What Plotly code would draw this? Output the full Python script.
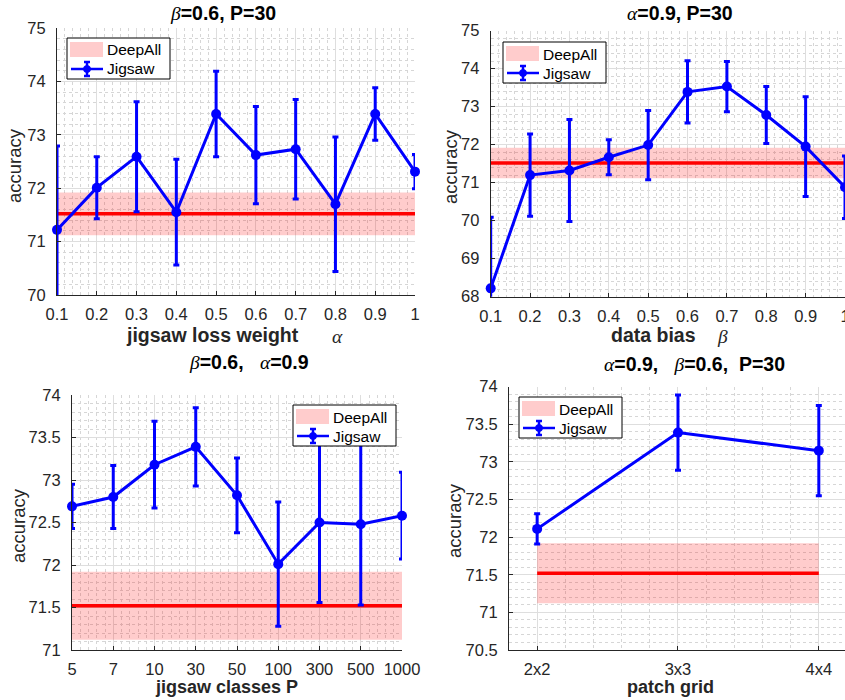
import plotly.graph_objects as go

# ---------------- data ----------------
ALPHA = [0.1, 0.2, 0.3, 0.4, 0.5, 0.6, 0.7, 0.8, 0.9, 1.0]
ALPHA_LABELS = ["0.1", "0.2", "0.3", "0.4", "0.5", "0.6", "0.7", "0.8", "0.9", "1"]
ACC_ALPHA = [71.22, 72.01, 72.59, 71.55, 73.39, 72.62, 72.73, 71.70, 73.39, 72.31]
ERR_ALPHA = [1.57, 0.58, 1.03, 0.99, 0.80, 0.91, 0.93, 1.26, 0.49, 0.32]

BETA = [0.1, 0.2, 0.3, 0.4, 0.5, 0.6, 0.7, 0.8, 0.9, 1.0]
BETA_LABELS = ["0.1", "0.2", "0.3", "0.4", "0.5", "0.6", "0.7", "0.8", "0.9", "1"]
ACC_BETA = [68.22, 71.20, 71.32, 71.67, 71.99, 73.39, 73.53, 72.78, 71.95, 70.88]
ERR_BETA = [1.87, 1.08, 1.34, 0.46, 0.91, 0.82, 0.66, 0.75, 1.31, 0.82]

P_LABELS = ["5", "7", "10", "30", "50", "100", "300", "500", "1000"]
ACC_P = [72.69, 72.80, 73.18, 73.39, 72.82, 72.01, 72.50, 72.48, 72.58]
ERR_P = [0.26, 0.37, 0.51, 0.46, 0.44, 0.73, 0.94, 0.95, 0.51]

GRID_LABELS = ["2x2", "3x3", "4x4"]
ACC_GRID = [72.11, 73.39, 73.15]
ERR_GRID = [0.20, 0.50, 0.60]

DEEPALL_MEAN = 71.52
DEEPALL_STD = 0.40

# ---------------- styling ----------------
W, H = 845, 700
BLUE = "#0000ff"
RED = "#ff0000"
BAND = "rgba(255,0,0,0.2)"
AX = "#262626"
FONT = "Liberation Sans"
SERIF = "Liberation Serif"


def px(x, y):
    return x / W, 1 - y / H


fig = go.Figure()


def add_panel(n, xs, acc, err):
    xa = "x" if n == 1 else f"x{n}"
    ya = "y" if n == 1 else f"y{n}"
    x0, x1 = xs[0], xs[-1]
    lo, hi = DEEPALL_MEAN - DEEPALL_STD, DEEPALL_MEAN + DEEPALL_STD
    fig.add_trace(go.Scatter(x=[x0, x1, x1, x0, x0], y=[lo, lo, hi, hi, lo], mode="lines",
                             fill="toself", fillcolor=BAND, line=dict(width=0),
                             showlegend=False, hoverinfo="skip", xaxis=xa, yaxis=ya))
    fig.add_trace(go.Scatter(x=[x0, x1], y=[DEEPALL_MEAN, DEEPALL_MEAN], mode="lines",
                             line=dict(color=RED, width=3.5), showlegend=False,
                             xaxis=xa, yaxis=ya))
    # line + error bars (clipped to the axes)
    fig.add_trace(go.Scatter(x=xs, y=acc, mode="lines",
                             line=dict(color=BLUE, width=3),
                             error_y=dict(type="data", array=err, visible=True,
                                          color=BLUE, thickness=3, width=3),
                             showlegend=False, xaxis=xa, yaxis=ya))
    # markers (not clipped, like the original)
    fig.add_trace(go.Scatter(x=xs, y=acc, mode="markers", cliponaxis=False,
                             marker=dict(color=BLUE, size=10),
                             showlegend=False, xaxis=xa, yaxis=ya))


add_panel(1, ALPHA, ACC_ALPHA, ERR_ALPHA)
add_panel(2, BETA, ACC_BETA, ERR_BETA)
add_panel(3, list(range(len(P_LABELS))), ACC_P, ERR_P)
add_panel(4, list(range(len(GRID_LABELS))), ACC_GRID, ERR_GRID)


def axis_common(minor_dtick, standoff):
    return dict(showline=True, linecolor=AX, linewidth=1, mirror=False,
                ticks="inside", ticklen=4, tickcolor=AX, tickwidth=1,
                showgrid=True, gridcolor="#dedede", gridwidth=1, zeroline=False,
                tickfont=dict(family=FONT, size=16.5, color=AX),
                ticklabelstandoff=standoff, automargin=False,
                ticklabeloverflow="allow",
                minor=dict(dtick=minor_dtick, showgrid=True, gridcolor="#d6d6d6",
                           griddash="dot", gridwidth=1, ticks=""),
                fixedrange=True)


def dom_x(a, b):
    return [a / W, min(b / W, 1.0)]


def dom_y(top, bottom):
    return [1 - bottom / H, 1 - top / H]


XS, YS = 4, 7
layout = dict(
    width=W, height=H, margin=dict(l=0, r=0, t=0, b=0, autoexpand=False),
    paper_bgcolor="white", plot_bgcolor="white", showlegend=False,
    xaxis=dict(axis_common(0.02, XS), domain=dom_x(57, 415), range=[0.1, 1.0],
               tickvals=ALPHA, ticktext=ALPHA_LABELS, anchor="y"),
    yaxis=dict(axis_common(0.2, YS), domain=dom_y(28, 295), range=[70, 75], dtick=1, anchor="x"),
    xaxis2=dict(axis_common(0.02, XS), domain=dom_x(490.7, 845), range=[0.1, 1.0],
                tickvals=BETA, ticktext=BETA_LABELS, anchor="y2"),
    yaxis2=dict(axis_common(0.2, YS), domain=dom_y(30.7, 296.7), range=[68, 75], dtick=1, anchor="x2"),
    xaxis3=dict(axis_common(0.2, XS), domain=dom_x(72, 402), range=[0, len(P_LABELS) - 1],
                tickvals=list(range(len(P_LABELS))), ticktext=P_LABELS, anchor="y3"),
    yaxis3=dict(axis_common(0.1, YS), domain=dom_y(395, 650), range=[71, 74], dtick=0.5, anchor="x3"),
    xaxis4=dict(axis_common(0.2, XS), domain=dom_x(509, 845), range=[-0.2, 2.186],
                tickvals=list(range(len(GRID_LABELS))), ticktext=GRID_LABELS, anchor="y4"),
    yaxis4=dict(axis_common(0.1, YS), domain=dom_y(386.7, 650), range=[70.5, 74], dtick=0.5, anchor="x4"),
)
fig.update_layout(**layout)

# ---------------- titles / axis labels ----------------
annotations = []


def greek(ch):
    return (f"<span style='font-family:{SERIF};font-style:italic;font-weight:normal'>{ch}</span>")


def text_at(x, y, text, size, anchor="center", angle=0, color="black", bold=False):
    X, Y = px(x, y)
    t = f"<b>{text}</b>" if bold else text
    annotations.append(dict(x=X, y=Y, xref="paper", yref="paper", text=t, showarrow=False,
                            xanchor=anchor, yanchor="middle", textangle=angle,
                            font=dict(family=FONT, size=size, color=color)))


NB = "\u00a0"
TS = 19.5
text_at(223, 13, f"{greek('β')}=0.6, P=30", TS, bold=True)
text_at(680, 13, f"{greek('α')}=0.9, P=30", TS, bold=True)
text_at(249, 362, f"{greek('β')}=0.6,{NB * 3}{greek('α')}=0.9", TS, bold=True)
text_at(694, 364, f"{greek('α')}=0.9,{NB * 3}{greek('β')}=0.6,{NB * 2}P=30", TS, bold=True)

text_at(124, 335, "jigsaw loss weight", TS, anchor="left", color=AX, bold=True)
text_at(337, 336, greek("α"), TS, color=AX, bold=True)
text_at(609, 335, "data bias", TS, anchor="left", color=AX, bold=True)
text_at(722, 336, greek("β"), TS, color=AX, bold=True)
text_at(226, 687, "jigsaw classes P", 18, color=AX, bold=True)
text_at(670, 687, "patch grid", 18, color=AX, bold=True)

for (x, y) in [(15, 166), (451, 167), (18, 526), (454, 521)]:
    text_at(x, y, "accuracy", 18.5, angle=-90, color=AX)

# ---------------- legends (drawn as boxes) ----------------
shapes = []


def rect(x0, y0, x1, y1, fill, line_color=None, lw=0):
    a, b = px(x0, y0)
    c, d = px(x1, y1)
    shapes.append(dict(type="rect", xref="paper", yref="paper", x0=a, y0=d, x1=c, y1=b,
                       fillcolor=fill, line=dict(color=line_color or fill, width=lw),
                       layer="above"))


def seg(x0, y0, x1, y1, color, w):
    a, b = px(x0, y0)
    c, d = px(x1, y1)
    shapes.append(dict(type="line", xref="paper", yref="paper", x0=a, y0=b, x1=c, y1=d,
                       line=dict(color=color, width=w), layer="above"))


def circ(cx, cy, r, color):
    a, b = px(cx - r, cy - r)
    c, d = px(cx + r, cy + r)
    shapes.append(dict(type="circle", xref="paper", yref="paper", x0=a, y0=d, x1=c, y1=b,
                       fillcolor=color, line=dict(color=color, width=1), layer="above"))


def legend_box(x0, y0):
    rect(x0, y0, x0 + 103, y0 + 41, "white", "black", 1)
    rect(x0 + 3, y0 + 4, x0 + 36, y0 + 19, BAND)
    text_at(x0 + 38, y0 + 12, "DeepAll", 15.5, anchor="left")
    seg(x0 + 4, y0 + 31, x0 + 36, y0 + 31, BLUE, 2.5)
    seg(x0 + 20, y0 + 24, x0 + 20, y0 + 38, BLUE, 2.5)
    seg(x0 + 17, y0 + 24, x0 + 23, y0 + 24, BLUE, 2.5)
    seg(x0 + 17, y0 + 38, x0 + 23, y0 + 38, BLUE, 2.5)
    circ(x0 + 20, y0 + 31, 3.5, BLUE)
    text_at(x0 + 38, y0 + 31, "Jigsaw", 15.5, anchor="left")


legend_box(67, 38)
legend_box(503, 42)
legend_box(293, 405)
legend_box(519, 397)

fig.update_layout(annotations=annotations, shapes=shapes)
fig.write_html("out.html", config={"displayModeBar": False},
               post_script="document.body.style.margin='0';document.body.style.overflow='hidden';")
